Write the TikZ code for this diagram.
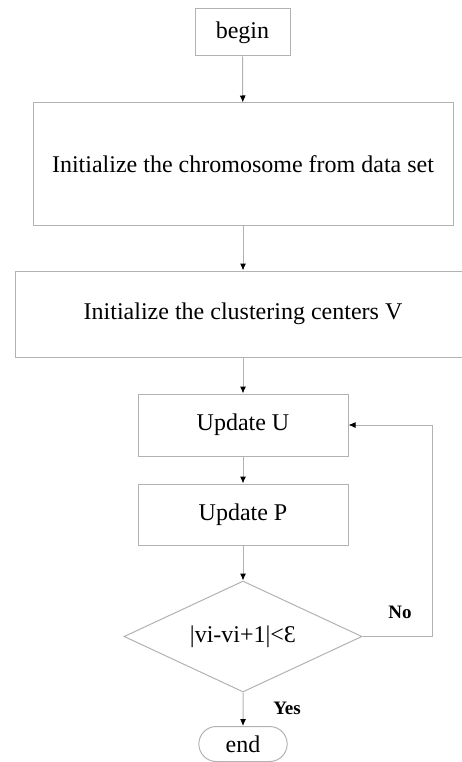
\documentclass[tikz,border=0pt]{standalone}
\usepackage{fontspec}
\setmainfont{Liberation Serif}
\usetikzlibrary{arrows.meta}
\usetikzlibrary{shapes.geometric, shapes.misc}
\definecolor{linegray}{RGB}{178,178,178}
\tikzstyle{process} = [rectangle, draw=linegray, line width=1pt, text centered, font=\fontsize{24}{28}\selectfont]
\tikzstyle{decision} = [diamond, aspect=2.14, draw=linegray, line width=1pt, inner sep=0pt, font=\fontsize{24}{28}\selectfont]
\tikzstyle{startstop} = [rounded rectangle, draw=linegray, line width=1pt, font=\fontsize{24}{28}\selectfont]
\tikzstyle{arrow} = [draw=linegray, line width=1pt, -{Latex[length=7pt,width=6pt,color=black]}]
\tikzstyle{answer} = [font=\fontsize{19}{22}\selectfont\bfseries]

\begin{document}
\begin{tikzpicture}[x=1pt, y=-1pt]
	    \useasboundingbox (0,0) rectangle (462,762);
	    \clip (0,0) rectangle (462,762);

	    \node[process, minimum width=95pt, minimum height=47pt] (begin) at (242.5,32.5) {begin};
	    \node[process, minimum width=420pt, minimum height=122pt] (chrom) at (243,164) {Initialize the chromosome from data set};
	    \node[process, minimum width=456pt, minimum height=86pt] (centers) at (243,314) {Initialize the clustering centers V};
	    \node[process, minimum width=210pt, minimum height=62pt] (updU) at (243,425) {Update U};
	    \node[process, minimum width=210pt, minimum height=61pt] (updP) at (243,514.5) {Update P};
	    \node[decision, minimum width=238pt, minimum height=111pt] (check) at (243,636.5) {|vi-vi+1|<Ɛ};
	    \node[startstop, minimum width=95pt, minimum height=35pt] (end) at (243,744) {end};

	    \draw[arrow] (begin) -- (chrom);
	    \draw[arrow] (chrom) -- (centers);
	    \draw[arrow] (centers) -- (updU);
	    \draw[arrow] (updU) -- (updP);
	    \draw[arrow] (updP) -- (check);
	    \draw[arrow] (check) -- (end);

	    % loop back when not converged
	    \coordinate (back) at (432,425);
	    \draw[arrow] (check.east) -| (back) -- (updU.east);

	    \node[answer] (no) at (400,612) {No};
	    \node[answer] (yes) at (287,708) {Yes};
\end{tikzpicture}
\end{document}
